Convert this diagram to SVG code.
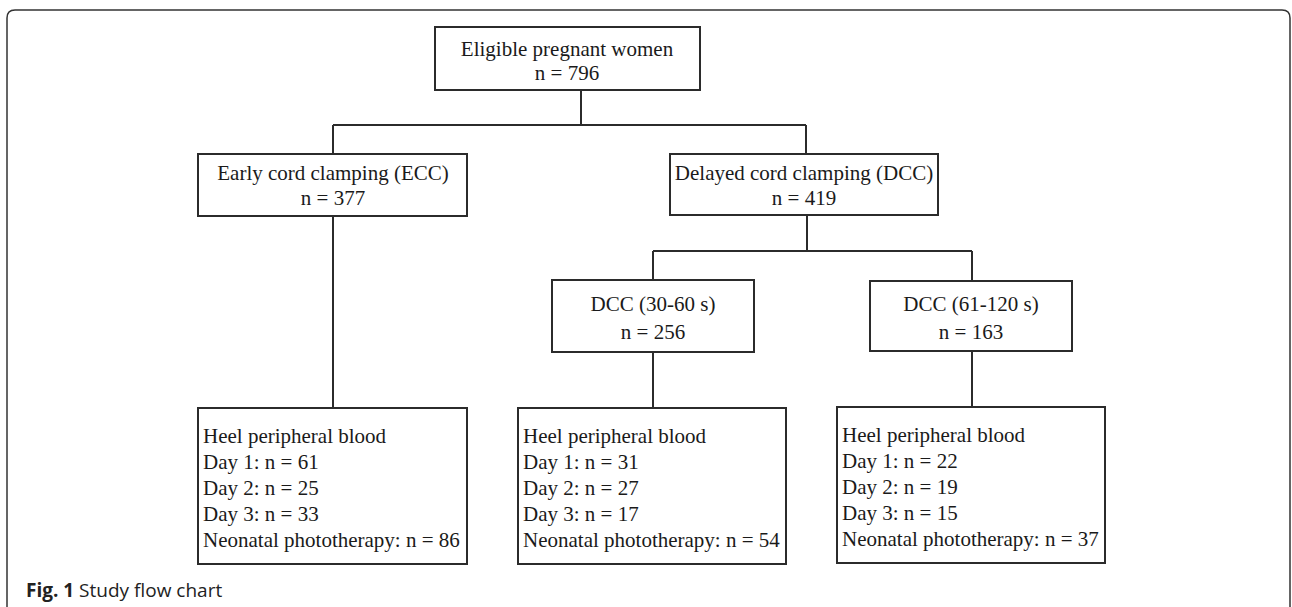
<svg xmlns="http://www.w3.org/2000/svg" width="1292" height="607" viewBox="0 0 1292 607">
<style>
.box{fill:#fff;stroke:#2b2b2b;stroke-width:2}
.t{font-family:"Liberation Serif","Times New Roman",serif;font-size:21px;fill:#1a1a1a}
.c{text-anchor:middle}
.ln{stroke:#2b2b2b;stroke-width:2;fill:none}
</style>
<rect width="1292" height="607" fill="#fff"/>
<path d="M7,620 L7,18 Q7,10 15,10 L1282,10 Q1290,10 1290,18 L1290,620" fill="none" stroke="#333" stroke-width="1.5"/>
<g id="connectors">
<path class="ln" d="M581,90 V125 M333,125 H806 M333,125 V154 M806,125 V154"/>
<path class="ln" d="M333,216 V408"/>
<path class="ln" d="M807,215 V251 M653,251 H972 M653,251 V280 M972,251 V281"/>
<path class="ln" d="M653,352 V408 M972,351 V407"/>
</g>
<g id="n-eligible">
<rect class="box" x="435" y="27" width="265" height="63"/>
<text class="t c" x="567" y="56">Eligible pregnant women</text>
<text class="t c" x="567" y="80">n = 796</text>
</g>
<g id="n-ecc">
<rect class="box" x="198" y="154" width="269" height="62"/>
<text class="t c" x="333" y="180">Early cord clamping (ECC)</text>
<text class="t c" x="333" y="205">n = 377</text>
</g>
<g id="n-dcc">
<rect class="box" x="670" y="154" width="268" height="61"/>
<text class="t c" x="804" y="180">Delayed cord clamping (DCC)</text>
<text class="t c" x="804" y="205">n = 419</text>
</g>
<g id="n-dcc1">
<rect class="box" x="552" y="280" width="202" height="72"/>
<text class="t c" x="653" y="311">DCC (30-60 s)</text>
<text class="t c" x="653" y="339">n = 256</text>
</g>
<g id="n-dcc2">
<rect class="box" x="870" y="281" width="202" height="70"/>
<text class="t c" x="971" y="311">DCC (61-120 s)</text>
<text class="t c" x="971" y="339">n = 163</text>
</g>
<g id="n-ecc-out">
<rect class="box" x="198" y="408" width="269" height="156"/>
<text class="t" x="203" y="443">Heel peripheral blood</text>
<text class="t" x="203" y="469">Day 1: n = 61</text>
<text class="t" x="203" y="495">Day 2: n = 25</text>
<text class="t" x="203" y="521">Day 3: n = 33</text>
<text class="t" x="203" y="547">Neonatal phototherapy: n = 86</text>
</g>
<g id="n-dcc1-out">
<rect class="box" x="518" y="408" width="268" height="156"/>
<text class="t" x="523" y="443">Heel peripheral blood</text>
<text class="t" x="523" y="469">Day 1: n = 31</text>
<text class="t" x="523" y="495">Day 2: n = 27</text>
<text class="t" x="523" y="521">Day 3: n = 17</text>
<text class="t" x="523" y="547">Neonatal phototherapy: n = 54</text>
</g>
<g id="n-dcc2-out">
<rect class="box" x="837" y="407" width="268" height="156"/>
<text class="t" x="842" y="442">Heel peripheral blood</text>
<text class="t" x="842" y="468">Day 1: n = 22</text>
<text class="t" x="842" y="494">Day 2: n = 19</text>
<text class="t" x="842" y="520">Day 3: n = 15</text>
<text class="t" x="842" y="546">Neonatal phototherapy: n = 37</text>
</g>
<text x="26" y="597" font-family="'Open Sans','Noto Sans',sans-serif" font-size="19" fill="#222"><tspan font-weight="bold">Fig. 1</tspan> Study flow chart</text>
</svg>
